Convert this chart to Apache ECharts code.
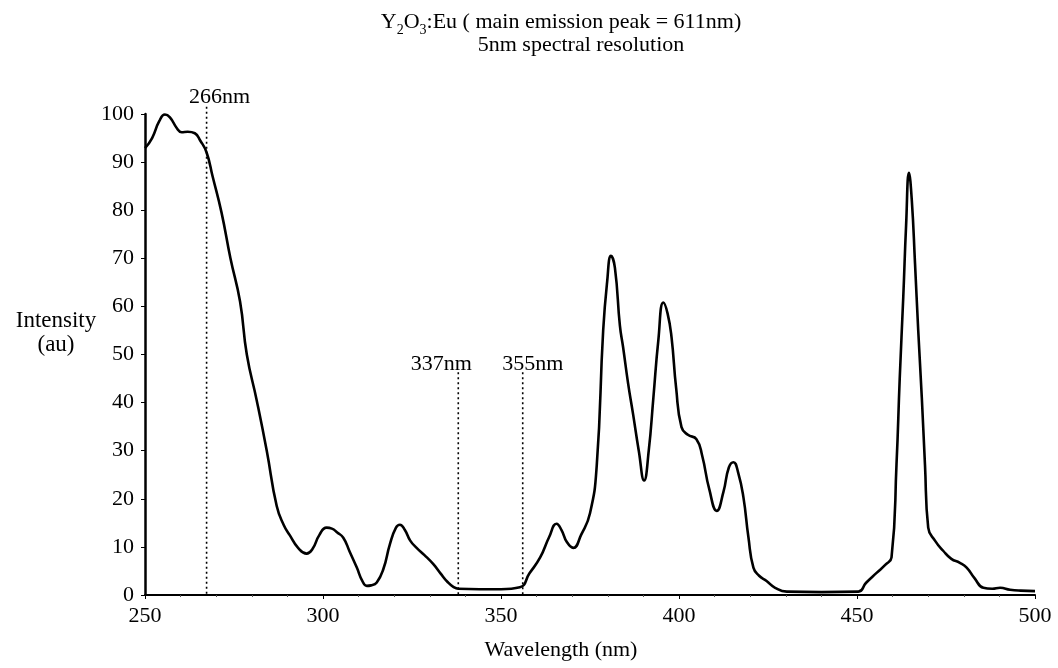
<!DOCTYPE html>
<html>
<head>
<meta charset="utf-8">
<script src="https://cdn.jsdelivr.net/npm/echarts@6/dist/echarts.min.js"></script>
<style>
html,body{margin:0;padding:0;background:#fff;}
#chart{width:1058px;height:668px;}
</style>
</head>
<body>
<div id="chart"></div>
<script>
// Wavelength (nm)
var wavelengths = [250,252,254,255.6,257,259,260.3,262,264,265.5,267.3,269,271.5,274,276.7,278.6,281.4,284.2,287,289,290.7,293,295.4,297,299,301,302.5,304,305.7,307.5,309.5,311,312.3,313.5,315.1,317,318.8,320.5,321.6,323,324.5,326.3,328.5,331,333,335,336.6,338,344,350,355.3,358,361,363.5,365.6,367,368.5,370.3,372.5,375,376.9,378.7,379.8,380.9,382,383.4,384.3,385.7,387.1,388.7,390.2,391.5,392.8,394.2,395.6,396.8,397.9,399.2,400.7,402.5,404.9,406.5,408.5,410.6,412.5,414,415.3,416.6,418.1,419.5,420.9,422.5,424.6,427,430.3,440,450.4,452.5,455.5,458,459.7,461.1,462,463,463.8,464.6,465.4,466.3,467.2,468.2,469.1,470,472,474.2,476.5,478.9,480.8,483,485.5,488,490.2,493,496,500];
// Intensity (au)
var intensities = [92.9,95,98.5,99.9,99.3,97,96.2,96.3,96,94.5,92,87,79.5,70,61,50,40.4,30,18.5,14.5,12.4,9.8,8.6,9.5,12.5,14,13.8,13,11.9,9,5.7,3,1.9,2,2.6,5.5,10.6,14,14.6,13.5,11.3,9.8,8.3,6.4,4.5,2.7,1.7,1.3,1.2,1.2,1.6,4.5,7.8,12,14.8,13.5,11,9.8,12.5,17,27,55,65,70.5,68,56,51.5,44,37.6,30,23.8,30,41,53,60.8,58.5,53.6,43,34.9,33.3,32.4,29,22,17.5,21.5,26.5,27.6,25.5,20.3,12,5.7,4,2.9,1.5,0.7,0.6,0.7,2.5,4.6,6.3,7.8,27.2,45,62,77,87.8,82,68.9,55,41.1,27,14,11.2,9.2,7.5,6.7,5.7,3.5,1.5,1.3,1.5,1.1,0.9,0.8];
// Dotted marker lines: where they sit on the drawn axis, their tops, and their labels
var markWavelengths = [267.3, 338, 356.1];
var markTops = [101.5, 46.3, 46.3];
var markLabels = ['266nm', '337nm', '355nm'];
var markLabelShift = [[13, 2], [-17, 4], [10, 4]];

var titleLine1 = 'Y{sub|2}O{sub|3}:Eu ( main emission peak = 611nm)';
var titleLine2 = '5nm spectral resolution';
var yAxisTitle = 'Intensity\n(au)';
var xAxisTitle = 'Wavelength (nm)';

var FONT = '"Liberation Serif", "DejaVu Serif", serif';
var seriesData = wavelengths.map(function (w, i) { return [w, intensities[i]]; });

var markerSeries = markWavelengths.map(function (w, i) {
  return {
    type: 'line',
    clip: false,
    silent: true,
    symbol: 'circle',
    symbolSize: 0.1,
    showSymbol: true,
    itemStyle: { color: 'rgba(0,0,0,0)' },
    lineStyle: { color: '#000', type: [2, 3], width: 1.6 },
    data: [
      { value: [w, markTops[i]],
        label: { show: true, formatter: markLabels[i], position: 'top', distance: 1, offset: markLabelShift[i],
          color: '#000', fontFamily: FONT, fontSize: 22 } },
      [w, 0]
    ],
    z: 1
  };
});

var chart = echarts.init(document.getElementById('chart'), null, { renderer: 'canvas' });
chart.setOption({
  backgroundColor: '#fff',
  animation: false,
  title: [
    { text: titleLine1, left: 556, top: 5, textAlign: 'center',
      textStyle: { fontFamily: FONT, fontSize: 22, fontWeight: 'normal', color: '#000', lineHeight: 24,
        rich: { sub: { fontFamily: FONT, fontSize: 14, lineHeight: 14, verticalAlign: 'bottom', padding: [0, 0, -3, 0] } } } },
    { text: titleLine2, left: 576, top: 29, textAlign: 'center',
      textStyle: { fontFamily: FONT, fontSize: 22, fontWeight: 'normal', color: '#000' } },
    { text: yAxisTitle, left: 51, top: 304, textAlign: 'center',
      textStyle: { fontFamily: FONT, fontSize: 23, fontWeight: 'normal', color: '#000', lineHeight: 24, align: 'center' } }
  ],
  grid: { left: 145, right: 23, top: 114, bottom: 73, containLabel: false },
  xAxis: {
    type: 'value', min: 250, max: 500, interval: 50,
    name: xAxisTitle, nameLocation: 'middle', nameGap: 44,
    nameTextStyle: { fontFamily: FONT, fontSize: 22, color: '#000', padding: [0, 58, 0, 0] },
    axisLine: { lineStyle: { color: '#000', width: 2 } },
    axisTick: { show: true, length: 4, lineStyle: { color: '#000', width: 1 } },
    minorTick: { show: true, splitNumber: 5, length: 2, lineStyle: { color: '#555' } },
    axisLabel: { fontFamily: FONT, fontSize: 22, color: '#000', margin: 10 },
    splitLine: { show: false }
  },
  yAxis: {
    type: 'value', min: 0, max: 100, interval: 10,
    axisLine: { show: true, lineStyle: { color: '#000', width: 2.5 } },
    axisTick: { show: true, length: 4, lineStyle: { color: '#000', width: 1 } },
    axisLabel: { fontFamily: FONT, fontSize: 22, color: '#000', margin: 11 },
    splitLine: { show: false }
  },
  series: [{
    type: 'line',
    data: seriesData,
    smooth: 0.5,
    showSymbol: false,
    lineStyle: { color: '#000', width: 2.6 },
    z: 3
  }].concat(markerSeries)
});
</script>
</body>
</html>
